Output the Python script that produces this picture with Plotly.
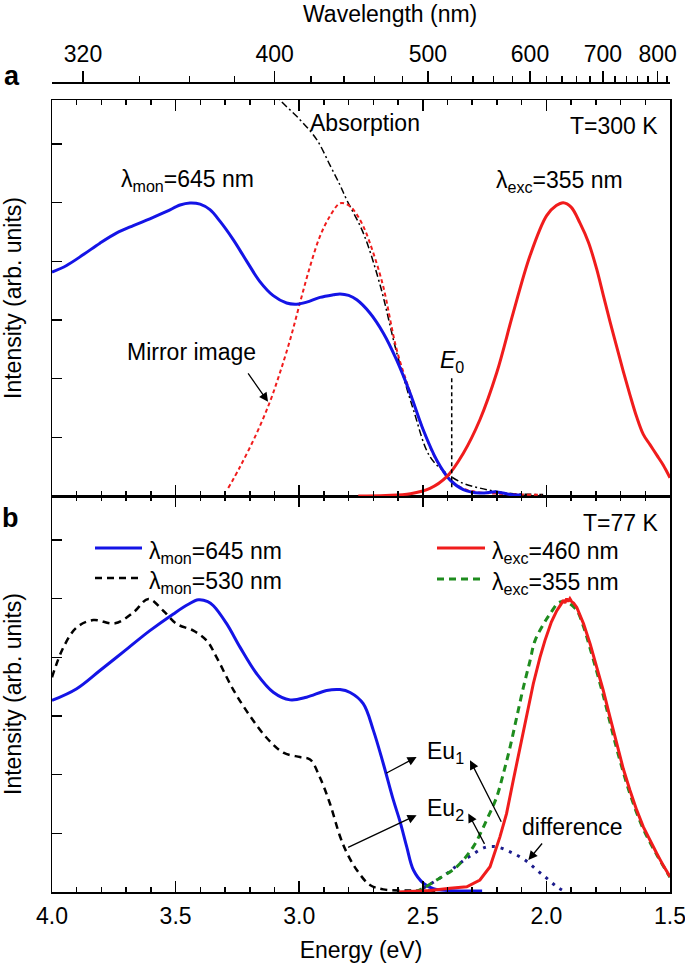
import plotly.graph_objects as go

HC = 1239.84  # eV*nm

# ---------------- Panel a (T = 300 K) ----------------
a_exc645_E = [4.00, 3.941, 3.873, 3.806, 3.738, 3.671, 3.604, 3.536, 3.482, 3.442, 3.401, 3.361, 3.320,
              3.267, 3.212, 3.159, 3.105, 3.051, 3.010, 2.970, 2.916, 2.862, 2.835, 2.80, 2.767, 2.714,
              2.660, 2.606, 2.552, 2.498, 2.444, 2.390, 2.336, 2.269, 2.201, 2.147, 2.10]
a_exc645_I = [0.763, 0.786, 0.823, 0.862, 0.897, 0.922, 0.945, 0.970, 0.992, 0.999, 0.995, 0.976, 0.936,
              0.874, 0.800, 0.731, 0.683, 0.658, 0.654, 0.661, 0.677, 0.686, 0.689, 0.684, 0.669, 0.624,
              0.556, 0.464, 0.352, 0.225, 0.123, 0.055, 0.022, 0.010, 0.014, 0.005, 0.003]

a_mirror_E = [3.287, 3.239, 3.172, 3.118, 3.078, 3.037, 2.997, 2.956, 2.916, 2.875, 2.835, 2.808, 2.781,
              2.741, 2.700, 2.660, 2.606, 2.552, 2.498, 2.444, 2.390, 2.336, 2.27, 2.20, 2.10, 2.02]
a_mirror_I = [0.027, 0.10, 0.214, 0.322, 0.42, 0.532, 0.658, 0.783, 0.885, 0.955, 0.998, 0.995, 0.976,
              0.92, 0.828, 0.714, 0.50, 0.355, 0.225, 0.12, 0.055, 0.025, 0.012, 0.008, 0.005, 0.004]

a_abs_E = [3.15, 3.078, 2.997, 2.929, 2.875, 2.835, 2.808, 2.741, 2.673, 2.606, 2.538, 2.471, 2.403,
           2.336, 2.269, 2.20, 2.134, 2.013]
a_abs_I = [1.42, 1.35, 1.283, 1.215, 1.127, 1.06, 1.01, 0.897, 0.72, 0.49, 0.294, 0.134, 0.077,
           0.043, 0.027, 0.015, 0.008, 0.005]

a_pl355_E = [2.761, 2.65, 2.55, 2.471, 2.403, 2.336, 2.269, 2.201, 2.134, 2.066, 1.999, 1.96, 1.932,
             1.90, 1.864, 1.83, 1.797, 1.770, 1.743, 1.716, 1.689, 1.662, 1.635, 1.608, 1.581, 1.554,
             1.527, 1.50]
a_pl355_I = [0.0, 0.002, 0.008, 0.026, 0.066, 0.146, 0.26, 0.42, 0.625, 0.82, 0.956, 0.99, 1.0,
             0.985, 0.93, 0.865, 0.775, 0.685, 0.595, 0.51, 0.425, 0.345, 0.27, 0.21, 0.175, 0.14,
             0.105, 0.062]

E0 = 2.383
E0_line_I = [0.03, 0.405]

# ---------------- Panel b (T = 77 K) ----------------
b_exc645_E = [4.0, 3.9, 3.806, 3.705, 3.604, 3.509, 3.45, 3.408, 3.37, 3.347, 3.293, 3.239, 3.172, 3.105,
              3.037, 2.97, 2.889, 2.835, 2.794, 2.741, 2.70, 2.66, 2.619, 2.592, 2.565, 2.538, 2.498,
              2.457, 2.40, 2.26]
b_exc645_I = [0.653, 0.693, 0.755, 0.823, 0.891, 0.948, 0.98, 0.996, 0.99, 0.976, 0.914, 0.834, 0.744,
              0.681, 0.655, 0.664, 0.687, 0.69, 0.68, 0.642, 0.551, 0.438, 0.313, 0.240, 0.154, 0.075,
              0.03, 0.011, 0.005, 0.003]

b_exc530_E = [4.0, 3.954, 3.9, 3.833, 3.745, 3.671, 3.61, 3.55, 3.496, 3.428, 3.374, 3.334, 3.267, 3.199,
              3.131, 3.064, 2.997, 2.956, 2.916, 2.875, 2.835, 2.808, 2.767, 2.714, 2.66, 2.55, 2.45]
b_exc530_I = [0.732, 0.834, 0.902, 0.927, 0.916, 0.953, 0.999, 0.959, 0.914, 0.891, 0.857, 0.80, 0.69,
              0.60, 0.525, 0.475, 0.46, 0.452, 0.39, 0.30, 0.19, 0.135, 0.075, 0.024, 0.009, 0.005, 0.004]

b_pl460_E = [2.60, 2.47, 2.39, 2.322, 2.269, 2.228, 2.188, 2.161, 2.134, 2.107, 2.080, 2.053, 2.026,
             2.006, 1.98, 1.958, 1.94, 1.932, 1.925, 1.918, 1.912, 1.905, 1.898, 1.89, 1.877, 1.85,
             1.823, 1.797, 1.77, 1.743, 1.716, 1.689, 1.662, 1.635, 1.608, 1.581, 1.554, 1.527, 1.50]
b_pl460_I = [0.0, 0.005, 0.013, 0.018, 0.041, 0.086, 0.188, 0.268, 0.381, 0.494, 0.608, 0.71, 0.80,
             0.857, 0.92, 0.959, 0.982, 0.995, 0.985, 1.0, 0.99, 1.0, 0.99, 0.985, 0.97, 0.915,
             0.846, 0.77, 0.687, 0.597, 0.506, 0.42, 0.347, 0.28, 0.222, 0.175, 0.132, 0.09, 0.052]

b_pl355_E = [2.53, 2.498, 2.444, 2.363, 2.296, 2.242, 2.201, 2.174, 2.147, 2.12, 2.093, 2.066, 2.046,
             2.0, 1.985, 1.953, 1.93, 1.91, 1.877, 1.85, 1.823, 1.77, 1.716, 1.662, 1.608, 1.554, 1.50]
b_pl355_I = [0.0, 0.013, 0.041, 0.086, 0.154, 0.245, 0.324, 0.404, 0.494, 0.596, 0.698, 0.789, 0.857,
             0.93, 0.948, 0.985, 0.99, 0.985, 0.96, 0.905, 0.83, 0.67, 0.49, 0.335, 0.215, 0.128, 0.05]

b_diff_E = [2.498, 2.403, 2.35, 2.302, 2.248, 2.201, 2.147, 2.087, 2.039, 1.999, 1.958, 1.925]
b_diff_I = [0.013, 0.063, 0.098, 0.126, 0.152, 0.154, 0.137, 0.109, 0.075, 0.047, 0.018, 0.001]

legend_left = ['λ<sub>mon</sub>=645 nm', 'λ<sub>mon</sub>=530 nm']
legend_right = ['λ<sub>exc</sub>=460 nm', 'λ<sub>exc</sub>=355 nm']

# ---------------- Axis ticks ----------------
energy_range = [4.0, 1.5]
wl_major = [320, 400, 500, 600, 700, 800]
wl_minor = [340, 360, 380, 420, 440, 460, 480, 520, 540, 560, 580, 620, 640, 660, 680,
            720, 740, 760, 780, 820]

BLUE = '#1414e6'
RED = '#f01c1c'
GREEN = '#1e8c1e'
NAVY = '#1c1c8c'
FONT = 'Liberation Sans, Arial, Helvetica, sans-serif'
FS = 23

# line styles
ST_BLUE = dict(color=BLUE, width=3)
ST_BLACKDASH = dict(color='black', width=2.5, dash='7px,5px')
ST_RED = dict(color=RED, width=3)
ST_GREEN = dict(color=GREEN, width=3, dash='7px,5px')

fig = go.Figure()

# panel a traces (x2, y2)
fig.add_trace(go.Scatter(x=a_abs_E, y=a_abs_I, mode='lines', xaxis='x2', yaxis='y2', name='Absorption',
                         line=dict(color='black', width=1.5, dash='7px,3px,2px,3px', shape='spline')))
fig.add_trace(go.Scatter(x=a_mirror_E, y=a_mirror_I, mode='lines', xaxis='x2', yaxis='y2', name='Mirror image',
                         line=dict(color=RED, width=2, dash='4px,3px', shape='spline')))
fig.add_trace(go.Scatter(x=a_exc645_E, y=a_exc645_I, mode='lines', xaxis='x2', yaxis='y2', name='exc 645',
                         line=dict(ST_BLUE, shape='spline')))
fig.add_trace(go.Scatter(x=a_pl355_E, y=a_pl355_I, mode='lines', xaxis='x2', yaxis='y2', name='PL 355',
                         line=dict(ST_RED, shape='spline')))
fig.add_trace(go.Scatter(x=[E0, E0], y=E0_line_I, mode='lines', xaxis='x2', yaxis='y2', name='E0',
                         line=dict(color='black', width=1.5, dash='4px,3px')))
# dummy trace for top wavelength axis
fig.add_trace(go.Scatter(x=[], y=[], xaxis='x3', yaxis='y2', hoverinfo='skip'))

# panel b traces (x, y)
fig.add_trace(go.Scatter(x=b_exc530_E, y=b_exc530_I, mode='lines', name=legend_left[1],
                         line=dict(ST_BLACKDASH, shape='spline')))
fig.add_trace(go.Scatter(x=b_exc645_E, y=b_exc645_I, mode='lines', name=legend_left[0],
                         line=dict(ST_BLUE, shape='spline')))
fig.add_trace(go.Scatter(x=b_diff_E, y=b_diff_I, mode='lines', name='difference',
                         line=dict(color=NAVY, width=3, dash='3px,6px', shape='spline')))
fig.add_trace(go.Scatter(x=b_pl355_E, y=b_pl355_I, mode='lines', name=legend_right[1],
                         line=dict(ST_GREEN, shape='spline')))
fig.add_trace(go.Scatter(x=b_pl460_E, y=b_pl460_I, mode='lines', name=legend_right[0],
                         line=dict(ST_RED, shape='linear')))
fig.update_traces(showlegend=False)

axis_common = dict(showline=True, linecolor='black', linewidth=1.5, showgrid=False, zeroline=False,
                   automargin=False)
x_common = dict(axis_common, range=energy_range, tickmode='linear', tick0=1.5, dtick=0.5,
                ticks='inside', ticklen=11, tickwidth=1.5, tickcolor='black', mirror='ticks',
                minor=dict(dtick=0.1, tick0=1.5, ticks='inside', ticklen=5, tickwidth=1.5, tickcolor='black'))
y_common = dict(axis_common, range=[0, 1.35], tickmode='linear', tick0=0, dtick=0.2, ticks='inside',
                ticklen=10, tickwidth=1.5, tickcolor='black', showticklabels=False, mirror=True,
                title=dict(text='Intensity (arb. units)', standoff=23, font=dict(size=FS)))

top = 792 / 810
mid = 396 / 810

fig.update_layout(
    width=685, height=963,
    margin=dict(l=52, r=15, t=82, b=71),
    paper_bgcolor='white', plot_bgcolor='white',
    font=dict(family=FONT, size=FS, color='black'),
    showlegend=False,
    xaxis=dict(x_common, anchor='y', tickformat='.1f', ticklabelstandoff=3, ticklabeloverflow='allow',
               title=dict(text='Energy (eV)', standoff=14, font=dict(size=FS))),
    xaxis2=dict(x_common, anchor='y2', matches='x', showticklabels=False),
    xaxis3=dict(axis_common, overlaying='x2', anchor='free', position=1.0, side='top',
                range=energy_range, tickmode='array', ticklabeloverflow='allow',
                tickvals=[HC / w for w in wl_major], ticktext=[str(w) for w in wl_major],
                ticks='outside', ticklen=11, tickwidth=1.5, tickcolor='black', ticklabelstandoff=0,
                minor=dict(tickmode='array', tickvals=[HC / w for w in wl_minor], ticks='outside',
                           ticklen=6, tickwidth=1.5, tickcolor='black')),
    yaxis=dict(y_common, domain=[0, mid], anchor='x'),
    yaxis2=dict(y_common, domain=[mid, top], anchor='x2'),
)

def px_x(p):
    return (p - 52) / 618

def px_y(p):
    return (892 - p) / 810

ann = []
def txt(text, x, y, xref, yref, xanchor='center', yanchor='middle', size=FS):
    ann.append(dict(text=text, x=x, y=y, xref=xref, yref=yref, xanchor=xanchor, yanchor=yanchor,
                    showarrow=False, font=dict(size=size, family=FONT, color='black')))

def arrow(x, y, ax, ay, xref, yref):
    ann.append(dict(text='', x=x, y=y, ax=ax, ay=ay, xref=xref, yref=yref, showarrow=True,
                    arrowhead=2, arrowsize=1.4, arrowwidth=1.3, arrowcolor='black', standoff=0,
                    startstandoff=0))

# panel a texts
txt('λ<sub>mon</sub>=645 nm', 3.45, 1.075, 'x2', 'y2')
txt('Absorption', 2.734, 1.27, 'x2', 'y2')
txt('T=300 K', 1.54, 1.263, 'x2', 'y2', xanchor='right')
txt('λ<sub>exc</sub>=355 nm', 1.949, 1.072, 'x2', 'y2')
txt('Mirror image', 3.434, 0.491, 'x2', 'y2')
txt('<i>E</i><sub>0</sub>', 2.382, 0.457, 'x2', 'y2')
arrow(3.126, 0.321, -21, -30, 'x2', 'y2')

# panel b texts
txt('T=77 K', 1.54, 1.259, 'x', 'y', xanchor='right')
txt('Eu<sub>1</sub>', 2.491, 0.476, 'x', 'y', xanchor='left')
txt('Eu<sub>2</sub>', 2.491, 0.28, 'x', 'y', xanchor='left')
txt('difference', 1.896, 0.221, 'x', 'y')
arrow(2.525, 0.460, -32, 17, 'x', 'y')
arrow(2.309, 0.449, 32, 63, 'x', 'y')
arrow(2.525, 0.262, -70, 33, 'x', 'y')
arrow(2.316, 0.268, 17, 32, 'x', 'y')
arrow(2.073, 0.109, 15, -18, 'x', 'y')

# legend (panel b) drawn as key lines + labels
shapes = []
def key(x0, x1, y, style, label):
    shapes.append(dict(type='line', xref='paper', yref='paper', x0=px_x(x0), x1=px_x(x1),
                       y0=px_y(y), y1=px_y(y), line=style))
    txt(label, px_x(x1 + 5), px_y(y + 4), 'paper', 'paper', xanchor='left')

key(95, 142, 548, ST_BLUE, legend_left[0])
key(95, 142, 578, ST_BLACKDASH, legend_left[1])
key(437, 485, 548, ST_RED, legend_right[0])
key(437, 485, 579, ST_GREEN, legend_right[1])

# panel labels and top-axis title
txt('<b>a</b>', px_x(12), px_y(76), 'paper', 'paper', size=27)
txt('<b>b</b>', px_x(10), px_y(518), 'paper', 'paper', size=27)
txt('Wavelength (nm)', px_x(390), px_y(14), 'paper', 'paper')

fig.update_layout(annotations=ann, shapes=shapes)
# remove the browser's default 8px body margin so the figure sits at the page origin
fig.write_html('out.html', config={'displayModeBar': False, 'staticPlot': True},
               post_script="document.body.style.margin='0px';")
